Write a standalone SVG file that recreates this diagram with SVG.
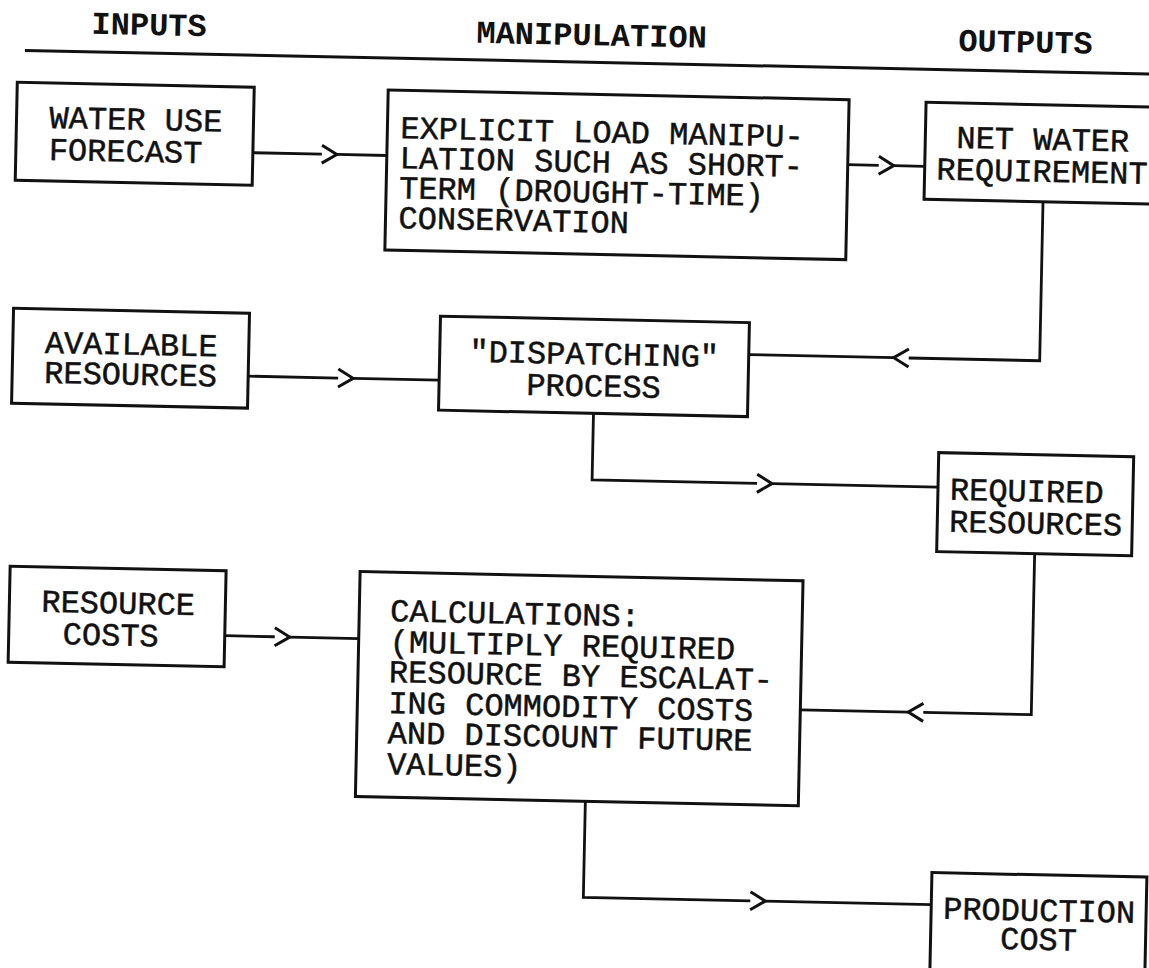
<svg xmlns="http://www.w3.org/2000/svg" xmlns:xlink="http://www.w3.org/1999/xlink" width="1149" height="968" viewBox="0 0 1149 968">
<style>
.box{fill:#fff;stroke:#111;stroke-width:3}
.lbl{font-family:"Liberation Mono","DejaVu Sans Mono",monospace;font-size:32px;fill:#111;stroke:#111;stroke-width:0.5}
.mid{text-anchor:middle}
.hdr{font-family:"Liberation Mono","DejaVu Sans Mono",monospace;font-size:32px;font-weight:bold;fill:#111}
.con{fill:none;stroke:#111;stroke-width:2.8}
.rule{stroke:#111;stroke-width:3}
</style>
<defs>
<polyline id="chevR" points="0,-9 15,0 0,9" fill="none" stroke="#111" stroke-width="3"/>
<polyline id="chevL" points="15,-9 0,0 15,9" fill="none" stroke="#111" stroke-width="3"/>
</defs>
<rect x="0" y="0" width="1149" height="968" fill="#fff"/>
<g transform="rotate(1.2 574 484)">
<g id="headers">
<text class="hdr" x="82" y="44">INPUTS</text>
<text class="hdr" x="467" y="45">MANIPULATION</text>
<text class="hdr" x="949" y="43">OUTPUTS</text>
<line class="rule" x1="16" y1="62" x2="1175" y2="62"/>
</g>
<g id="connectors">
<path class="con" d="M246,159.5 H315 M330,159.5 H380"/>
<use xlink:href="#chevR" x="315" y="159.5"/>
<path class="con" d="M841,159 H872 M887,159 H918"/>
<use xlink:href="#chevR" x="872" y="159"/>
<path class="con" d="M246,383 H336 M351,383 H437"/>
<use xlink:href="#chevR" x="336" y="383"/>
<path class="con" d="M1037,192 V351 H906 M891,351 H746"/>
<use xlink:href="#chevL" x="891" y="351"/>
<path class="con" d="M592,413 V479.5 H757 M772,479.5 H938"/>
<use xlink:href="#chevR" x="757" y="479.5"/>
<path class="con" d="M228,643 H278 M293,643 H362"/>
<use xlink:href="#chevR" x="278" y="643"/>
<path class="con" d="M1036,544 V705 H928 M913,705 H805"/>
<use xlink:href="#chevL" x="913" y="705"/>
<path class="con" d="M592,801 V897 H759 M774,897 H940"/>
<use xlink:href="#chevR" x="759" y="897"/>
</g>
<g id="water-use-forecast">
<rect class="box" x="9" y="94" width="237" height="98"/>
<text class="lbl" x="42" y="139">WATER USE</text>
<text class="lbl" x="42" y="171">FORECAST</text>
</g>
<g id="available-resources">
<rect class="box" x="10" y="320" width="236" height="95"/>
<text class="lbl" x="42" y="364">AVAILABLE</text>
<text class="lbl" x="42" y="394">RESOURCES</text>
</g>
<g id="resource-costs">
<rect class="box" x="12" y="578" width="216" height="96"/>
<text class="lbl" x="44" y="623">RESOURCE</text>
<text class="lbl" x="66" y="655">COSTS</text>
</g>
<g id="load-manipulation">
<rect class="box" x="380" y="94" width="461" height="160"/>
<text class="lbl" x="393" y="142">EXPLICIT LOAD MANIPU-</text>
<text class="lbl" x="393" y="172">LATION SUCH AS SHORT-</text>
<text class="lbl" x="393" y="202">TERM (DROUGHT-TIME)</text>
<text class="lbl" x="393" y="232">CONSERVATION</text>
</g>
<g id="dispatching-process">
<rect class="box" x="437" y="319" width="309" height="94"/>
<text class="lbl mid" x="591.5" y="364">"DISPATCHING"</text>
<text class="lbl mid" x="591.5" y="396">PROCESS</text>
</g>
<g id="calculations">
<rect class="box" x="362" y="576" width="443" height="225"/>
<text class="lbl" x="393" y="625">CALCULATIONS:</text>
<text class="lbl" x="393" y="656">(MULTIPLY REQUIRED</text>
<text class="lbl" x="393" y="686">RESOURCE BY ESCALAT-</text>
<text class="lbl" x="393" y="717">ING COMMODITY COSTS</text>
<text class="lbl" x="393" y="747">AND DISCOUNT FUTURE</text>
<text class="lbl" x="393" y="778">VALUES)</text>
</g>
<g id="net-water-requirement">
<rect class="box" x="918" y="95" width="240" height="97"/>
<text class="lbl mid" x="1035.5" y="140">NET WATER</text>
<text class="lbl mid" x="1035.5" y="172">REQUIREMENT</text>
</g>
<g id="required-resources">
<rect class="box" x="938" y="445" width="195" height="99"/>
<text class="lbl" x="950" y="492">REQUIRED</text>
<text class="lbl" x="950" y="524">RESOURCES</text>
</g>
<g id="production-cost">
<rect class="box" x="940" y="865" width="215" height="130"/>
<text class="lbl mid" x="1048" y="911">PRODUCTION</text>
<text class="lbl mid" x="1048" y="940">COST</text>
</g>
</g>
</svg>
